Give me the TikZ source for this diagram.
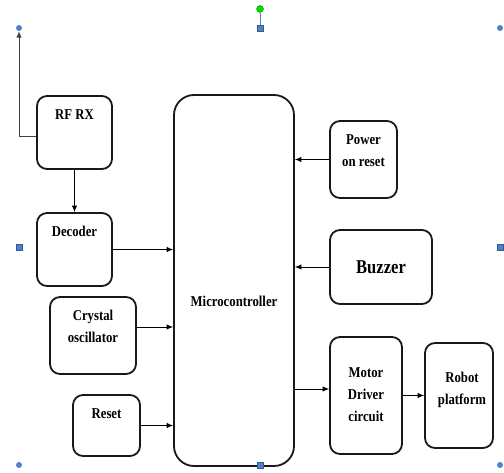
\documentclass[tikz,border=0pt]{standalone}
\usepackage{fontspec}
\setmainfont{Liberation Serif}[FakeStretch=0.85]
\usetikzlibrary{positioning, arrows.meta}
\definecolor{handleblue}{RGB}{79,129,204}
\definecolor{handlegreen}{RGB}{0,225,0}

\begin{document}
\begin{tikzpicture}[x=1pt, y=-1pt,
	blk/.style={rectangle, draw=black!90, line width=1.8pt, rounded corners=10pt, inner sep=0pt},
	lbl/.style={inner sep=0pt, align=center, font=\fontsize{15}{22}\selectfont\bfseries},
	arr/.style={-{Latex[length=6.5pt, width=5.5pt]}, line width=0.9pt},
	hdot/.style={circle, fill=handleblue, inner sep=0pt, minimum size=6pt},
	hbox/.style={rectangle, fill=handleblue, draw=handleblue!70!black, line width=0.3pt, inner sep=0pt, minimum size=6pt}]
	\useasboundingbox (0,0) rectangle (504,473);
	% blocks
	\node (mcu) at (234,280.5)[blk, rounded corners=20pt, minimum width=120pt, minimum height=371pt]{};
	\node[lbl] at ([yshift=-20.5pt]mcu.center) {Microcontroller};
	\node (rf) at (74.5,132.5)[blk, minimum width=75pt, minimum height=73pt]{};
	\node[lbl, below=14pt of rf.north] {RF RX};
	\node (dec) at (74.5,249.5)[blk, minimum width=75pt, minimum height=73pt]{};
	\node[lbl, below=14pt of dec.north] {Decoder};
	\node (xtal) at (93,335.5)[blk, minimum width=86pt, minimum height=77pt]{};
	\node[lbl, below=14pt of xtal.north] {Crystal\\oscillator};
	\node (rst) at (106.5,425.5)[blk, minimum width=67pt, minimum height=61pt]{};
	\node[lbl, below=14pt of rst.north] {Reset};
	\node (por) at (363.5,159.5)[blk, minimum width=67pt, minimum height=77pt]{};
	\node[lbl, below=14pt of por.north] {Power\\on reset};
	\node (buz) at (381,267)[blk, minimum width=102pt, minimum height=74pt]{};
	\node[lbl, font=\fontsize{19.5}{22}\selectfont\bfseries] at (buz) {Buzzer};
	\node (mdc) at (366,395.5)[blk, minimum width=72pt, minimum height=117pt]{};
	\node[lbl, below=31pt of mdc.north] {Motor\\Driver\\circuit};
	\node (rbt) at (459,395.5)[blk, minimum width=68pt, minimum height=105pt]{};
	\node[lbl, below=30pt of rbt.north, xshift=3pt] {Robot\\platform};
	% selection handles
	\node (h1) at (19,28)[hdot]{};
	\node (h2) at (260,28)[hbox]{};
	\node (h3) at (500,28)[hdot]{};
	\node (h4) at (19,247)[hbox]{};
	\node (h5) at (500,247)[hbox]{};
	\node (h6) at (19,465)[hdot]{};
	\node (h7) at (260,465)[hbox]{};
	\node (h8) at (500,465)[hdot]{};
	\node (rot) at (260,9)[circle, fill=handlegreen, draw=green!50!black, line width=0.3pt, inner sep=0pt, minimum size=7pt]{};
	\draw[handleblue!80!gray, line width=0.9pt] (rot) -- (h2);
	% connections
	\coordinate (rfout) at ([yshift=-3.5pt]rf.west);
	\coordinate (xtalout) at ([yshift=8.5pt]xtal.east);
	\coordinate (mdcin) at ([yshift=6.5pt]mdc.west);
	\draw[arr, black!75] (rfout) -| (h1);
	\draw[arr] (rf) -- (dec);
	\draw[arr] (dec.east) -- (dec.east -| mcu.west);
	\draw[arr] (xtalout) -- (xtalout -| mcu.west);
	\draw[arr] (rst.east) -- (rst.east -| mcu.west);
	\draw[arr] (por.west) -- (por.west -| mcu.east);
	\draw[arr] (buz.west) -- (buz.west -| mcu.east);
	\draw[arr] (mdcin -| mcu.east) -- (mdcin);
	\draw[arr] (mdc.east) -- (mdc.east -| rbt.west);
\end{tikzpicture}
\end{document}
